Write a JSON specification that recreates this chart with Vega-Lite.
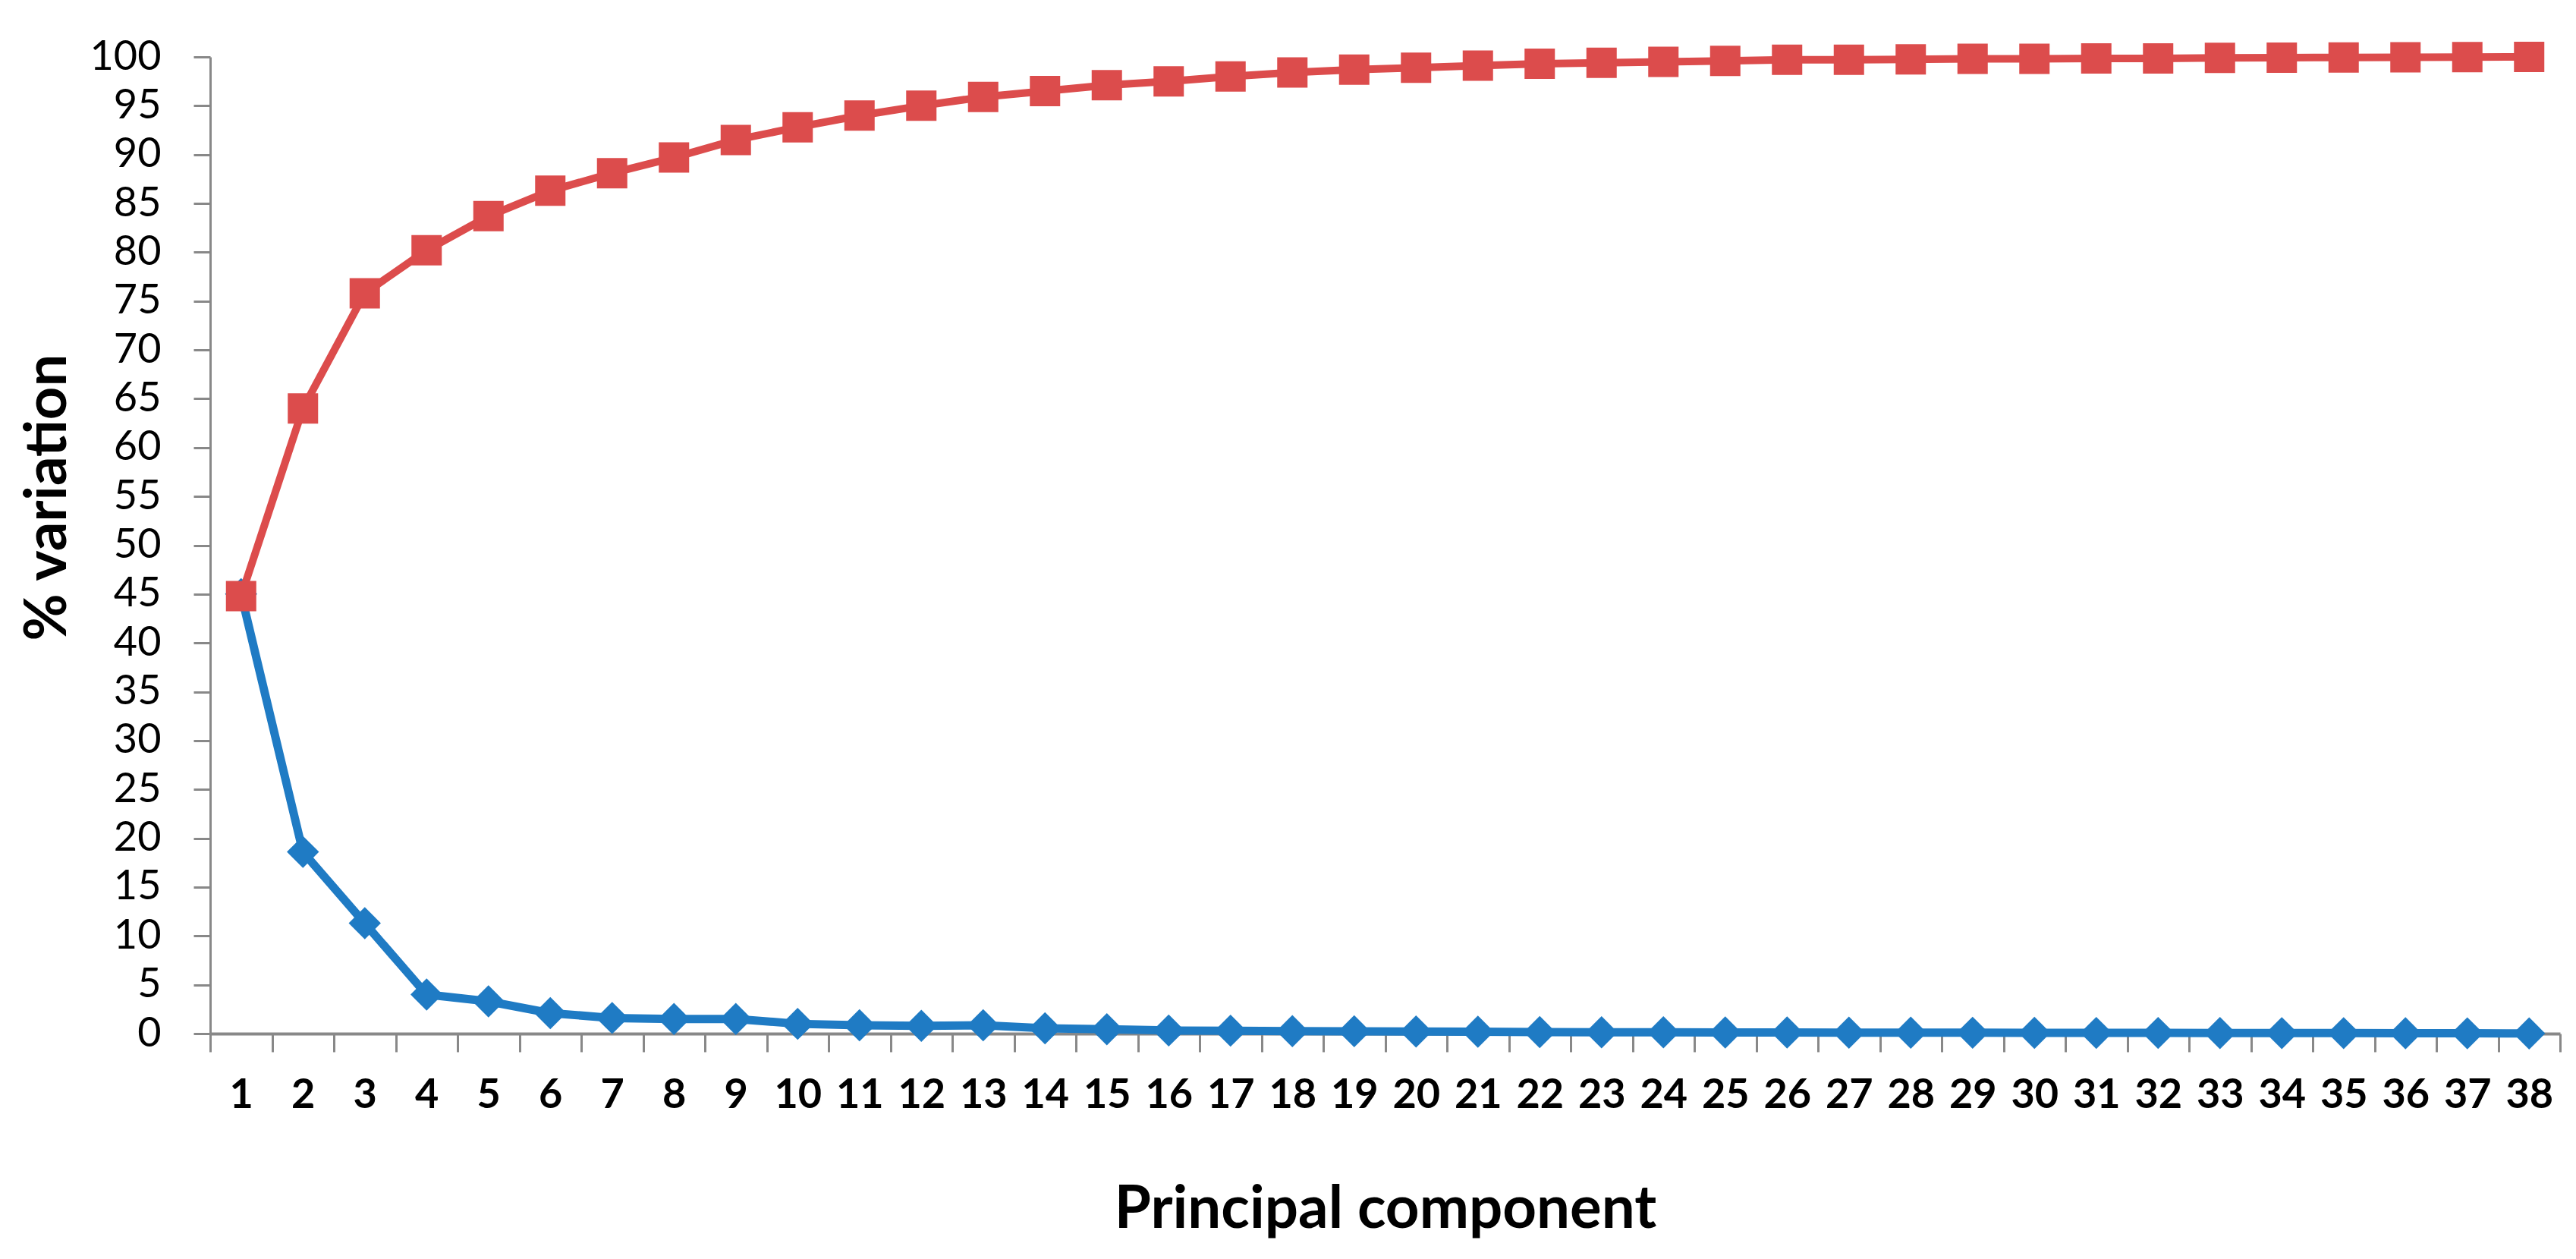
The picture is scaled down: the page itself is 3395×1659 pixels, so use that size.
{
  "$schema": "https://vega.github.io/schema/vega-lite/v6.json",
  "width": 3097,
  "height": 1287,
  "autosize": "none",
  "padding": {"left": 277, "top": 75, "right": 21, "bottom": 297},
  "background": "white",
  "config": {
    "view": {"stroke": null},
    "font": "Lato"
  },
  "data": {
    "values": [
      {"pc": 1, "ind": 45.0, "cum": 44.8},
      {"pc": 2, "ind": 18.6, "cum": 64.0},
      {"pc": 3, "ind": 11.3, "cum": 75.8},
      {"pc": 4, "ind": 4.0, "cum": 80.2},
      {"pc": 5, "ind": 3.3, "cum": 83.7},
      {"pc": 6, "ind": 2.1, "cum": 86.3},
      {"pc": 7, "ind": 1.6, "cum": 88.1},
      {"pc": 8, "ind": 1.5, "cum": 89.7},
      {"pc": 9, "ind": 1.5, "cum": 91.5},
      {"pc": 10, "ind": 1.0, "cum": 92.8},
      {"pc": 11, "ind": 0.85, "cum": 94.0},
      {"pc": 12, "ind": 0.8, "cum": 95.0},
      {"pc": 13, "ind": 0.85, "cum": 95.9},
      {"pc": 14, "ind": 0.55, "cum": 96.5},
      {"pc": 15, "ind": 0.45, "cum": 97.1},
      {"pc": 16, "ind": 0.32, "cum": 97.5},
      {"pc": 17, "ind": 0.3, "cum": 98.0},
      {"pc": 18, "ind": 0.25, "cum": 98.4},
      {"pc": 19, "ind": 0.24, "cum": 98.7},
      {"pc": 20, "ind": 0.22, "cum": 98.9},
      {"pc": 21, "ind": 0.2, "cum": 99.1},
      {"pc": 22, "ind": 0.15, "cum": 99.3},
      {"pc": 23, "ind": 0.14, "cum": 99.4},
      {"pc": 24, "ind": 0.13, "cum": 99.5},
      {"pc": 25, "ind": 0.12, "cum": 99.6},
      {"pc": 26, "ind": 0.11, "cum": 99.7},
      {"pc": 27, "ind": 0.1, "cum": 99.7},
      {"pc": 28, "ind": 0.1, "cum": 99.75},
      {"pc": 29, "ind": 0.09, "cum": 99.8},
      {"pc": 30, "ind": 0.08, "cum": 99.8},
      {"pc": 31, "ind": 0.07, "cum": 99.85},
      {"pc": 32, "ind": 0.07, "cum": 99.85},
      {"pc": 33, "ind": 0.06, "cum": 99.9},
      {"pc": 34, "ind": 0.05, "cum": 99.92},
      {"pc": 35, "ind": 0.05, "cum": 99.95},
      {"pc": 36, "ind": 0.04, "cum": 99.97},
      {"pc": 37, "ind": 0.03, "cum": 99.98},
      {"pc": 38, "ind": 0.02, "cum": 100.0}
    ]
  },
  "encoding": {
    "x": {
      "field": "pc",
      "type": "ordinal",
      "scale": {"type": "band", "paddingInner": 0, "paddingOuter": 0},
      "axis": {
        "title": "Principal component",
        "titleFont": "Lato",
        "titleFontSize": 78,
        "titleFontWeight": "bold",
        "titleColor": "#000000",
        "titlePadding": 85,
        "labelAngle": 0,
        "labelFont": "Lato",
        "labelFontSize": 54,
        "labelFontWeight": "bold",
        "labelColor": "#000000",
        "labelPadding": 30,
        "tickBand": "extent",
        "tickSize": 24,
        "tickWidth": 3,
        "tickColor": "#888888",
        "domainColor": "#888888",
        "domainWidth": 4,
        "grid": false
      }
    }
  },
  "layer": [
    {
      "mark": {"type": "line", "color": "#1F7BC4", "strokeWidth": 11},
      "encoding": {
        "y": {
          "field": "ind",
          "type": "quantitative",
          "scale": {"domain": [0, 100], "nice": false, "zero": true},
          "axis": {
            "title": "% variation",
            "titleFont": "Lato",
            "titleFontSize": 76,
            "titleFontWeight": "bold",
            "titleColor": "#000000",
            "titlePadding": 16,
            "titleY": 580,
            "values": [0, 5, 10, 15, 20, 25, 30, 35, 40, 45, 50, 55, 60, 65, 70, 75, 80, 85, 90, 95, 100],
            "labelFont": "Lato",
            "labelFontSize": 54,
            "labelColor": "#000000",
            "labelPadding": 43,
            "tickSize": 22,
            "tickWidth": 3,
            "tickColor": "#888888",
            "domainColor": "#888888",
            "domainWidth": 3,
            "grid": false
          }
        }
      }
    },
    {
      "mark": {"type": "point", "shape": "diamond", "filled": true, "opacity": 1, "color": "#1F7BC4", "size": 1800},
      "encoding": {"y": {"field": "ind", "type": "quantitative"}}
    },
    {
      "mark": {"type": "line", "color": "#DC4C4C", "strokeWidth": 10},
      "encoding": {"y": {"field": "cum", "type": "quantitative"}}
    },
    {
      "mark": {"type": "point", "shape": "square", "filled": true, "opacity": 1, "color": "#DC4C4C", "size": 1600},
      "encoding": {"y": {"field": "cum", "type": "quantitative"}}
    }
  ]
}
